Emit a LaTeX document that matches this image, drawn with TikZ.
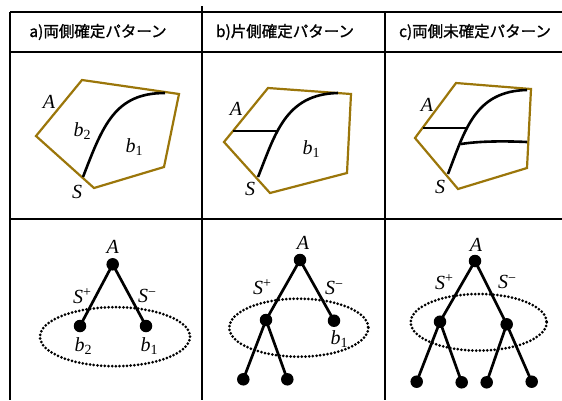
\documentclass[tikz,border=0pt]{standalone}
\usepackage{fontspec}
\newfontfamily\cjk[FakeBold=1.2]{Noto Sans CJK JP}
\newfontfamily\tms{Liberation Serif}
\definecolor{olive}{RGB}{155,118,10}
\newcommand{\ilab}[1]{{\tms\itshape #1}}
\newcommand{\sublab}[2]{{\tms\itshape #1}\raisebox{-0.4ex}{\tms\fontsize{14}{14}\selectfont #2}}
\newcommand{\suplab}[2]{{\tms\itshape #1}\raisebox{0.75ex}{\tms\fontsize{14}{14}\selectfont #2}}
\begin{document}
\begin{tikzpicture}[x=1pt,y=-1pt,
  grid/.style={line width=2pt},
  poly/.style={draw=olive,line width=2.2pt,line join=miter},
  blk/.style={line width=2.6pt},
  lab/.style={inner sep=0pt,font=\fontsize{20}{20}\selectfont},
  hdr/.style={inner sep=0pt,font=\cjk\fontsize{15.5}{15.5}\selectfont},
  dot/.style={circle,fill=black,inner sep=0pt,minimum size=12.5pt},
  edge/.style={line width=2.7pt},
  ring/.style={line width=3pt,dash pattern=on 0pt off 3.7pt,line cap=round}]
\useasboundingbox (0,0) rectangle (562,400);
% grid
\draw[grid] (10,12) -- (562,12);
\draw[grid] (10,52) -- (562,52);
\draw[grid] (10,219) -- (562,219);
\draw[grid] (10,12) -- (10,400);
\draw[grid] (202,6) -- (202,400);
\draw[grid] (385,12) -- (385,400);
% headers
\node[hdr] (ha) at (98,32) {a)両側確定パターン};
\node[hdr] (hb) at (285,32) {b)片側確定パターン};
\node[hdr] (hc) at (475,32) {c)両側未確定パターン};
% panel a
\draw[poly] (82,80) -- (179,94) -- (164,167) -- (94,188) -- (36,136) -- cycle;
\draw[blk] (83,177) .. controls (103,125) and (115,93) .. (165,93);
\node[lab] (aA) at (49,102) {\ilab{A}};
\node[lab] (ab2) at (82,131) {\sublab{b}{2}};
\node[lab] (ab1) at (134,147) {\sublab{b}{1}};
\node[lab] (aS) at (77,192) {\ilab{S}};
% panel b
\draw[poly] (268,88) -- (351,94) -- (347,173) -- (270,193) -- (224,142) -- cycle;
\draw[blk] (258,177) .. controls (275,135) and (285,94) .. (338,93);
\draw[blk] (233,131) -- (277,131);
\node[lab] (bA) at (236,109) {\ilab{A}};
\node[lab] (bb1) at (311,149) {\sublab{b}{1}};
\node[lab] (bS) at (250,189) {\ilab{S}};
% panel c
\draw[poly] (456,83) -- (531,89) -- (527,168) -- (458,189) -- (415,138) -- cycle;
\draw[blk] (448,174) .. controls (465,130) and (475,91) .. (527,90);
\draw[blk] (423,128) -- (467,128);
\draw[blk] (461,144) .. controls (480,141) and (505,141) .. (527,142);
\node[lab] (cA) at (427,105) {\ilab{A}};
\node[lab] (cS) at (440,187) {\ilab{S}};
% tree a
\draw[ring] (115,336.7) ellipse [x radius=75,y radius=29.5];
\node[dot] (ta) at (112.7,264.3) {};
\node[dot] (ta2) at (80,326) {};
\node[dot] (ta1) at (146,326) {};
\draw[edge] (ta.center) -- (ta2.center);
\draw[edge] (ta.center) -- (ta1.center);
\node[lab] at (112.7,247) {\ilab{A}};
\node[lab] at (82,296) {\suplab{S}{+}};
\node[lab] at (147,296) {\suplab{S}{−}};
\node[lab] at (83,346) {\sublab{b}{2}};
\node[lab] at (149,346) {\sublab{b}{1}};
% tree b
\draw[ring] (298.8,327.7) ellipse [x radius=69.5,y radius=29];
\node[dot] (tb) at (300,260) {};
\node[dot] (tbl) at (266,320) {};
\node[dot] (tbr) at (334,320.7) {};
\node[dot] (tbl1) at (243.3,379.3) {};
\node[dot] (tbl2) at (287.3,379.3) {};
\draw[edge] (tb.center) -- (tbl.center);
\draw[edge] (tb.center) -- (tbr.center);
\draw[edge] (tbl.center) -- (tbl1.center);
\draw[edge] (tbl.center) -- (tbl2.center);
\node[lab] at (303,243) {\ilab{A}};
\node[lab] at (262,287) {\suplab{S}{+}};
\node[lab] at (334,288) {\suplab{S}{−}};
\node[lab] at (339,339) {\sublab{b}{1}};
% tree c
\draw[ring] (478.7,322.3) ellipse [x radius=68,y radius=28.3];
\node[dot] (tc) at (475,261) {};
\node[dot] (tcl) at (440,321.7) {};
\node[dot] (tcr) at (506.7,324.3) {};
\node[dot] (tcl1) at (416.7,381.7) {};
\node[dot] (tcl2) at (461.7,382.3) {};
\node[dot] (tcr1) at (486.7,382.3) {};
\node[dot] (tcr2) at (531.7,381.7) {};
\draw[edge] (tc.center) -- (tcl.center);
\draw[edge] (tc.center) -- (tcr.center);
\draw[edge] (tcl.center) -- (tcl1.center);
\draw[edge] (tcl.center) -- (tcl2.center);
\draw[edge] (tcr.center) -- (tcr1.center);
\draw[edge] (tcr.center) -- (tcr2.center);
\node[lab] at (476,245) {\ilab{A}};
\node[lab] at (444,282) {\suplab{S}{+}};
\node[lab] at (507,282) {\suplab{S}{−}};
\end{tikzpicture}
\end{document}
